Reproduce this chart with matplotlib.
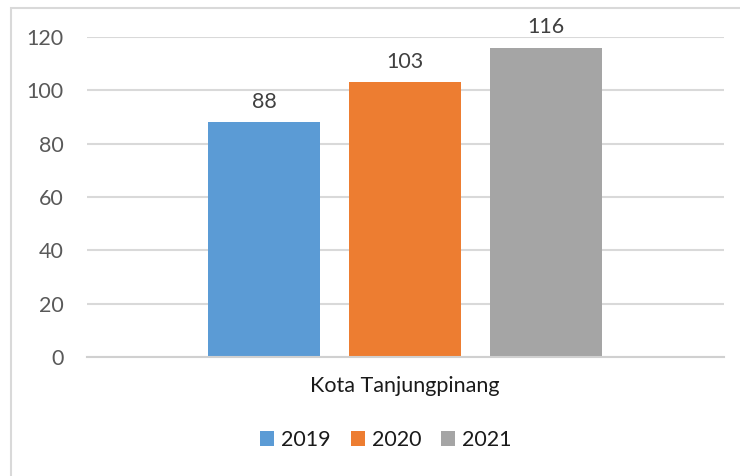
import matplotlib.pyplot as plt
from matplotlib.patches import Rectangle

# data ---------------------------------------
tahun = ['2019', '2020', '2021']
nilai = [88, 103, 116]
warna = ['#5b9bd5', '#ed7d31', '#a5a5a5']
kategori = 'Kota Tanjungpinang'
y_ticks = [0, 20, 40, 60, 80, 100, 120]

plt.rcParams['font.family'] = ['Lato', 'DejaVu Sans']

fig = plt.figure(figsize=(7.4, 4.76), dpi=100)
ax = fig.add_axes([0.1176, 0.25, 0.8608, 0.6723])

# chart frame
fig.patches.append(Rectangle((11 / 740, -0.1), 1.1, 1 - 8 / 476 + 0.1,
                             transform=fig.transFigure, fill=False,
                             edgecolor='#d9d9d9', linewidth=1.5))

pos = [-1, 0, 1]
bars = ax.bar(pos, nilai, width=0.794, color=warna, label=tahun, zorder=3)
for p, v in zip(pos, nilai):
    ax.text(p, v + 4, str(v), ha='center', va='bottom', fontsize=15.5,
            color='#404040')

ax.set_xlim(-2.255, 2.262)
ax.set_ylim(0, 120)
ax.set_yticks(y_ticks)
ax.set_xticks([])
ax.tick_params(axis='y', length=0, labelsize=15.5, labelcolor='#595959', pad=17)
ax.grid(axis='y', color='#d9d9d9', linewidth=1.5, zorder=0)
for s in ['top', 'right', 'left']:
    ax.spines[s].set_visible(False)
ax.spines['bottom'].set_color('#d0d0d0')
ax.spines['bottom'].set_linewidth(1.5)
ax.spines['bottom'].set_zorder(4)

fig.text(405 / 740, 1 - 386 / 476, kategori, ha='center', va='center',
         fontsize=15.5, color='#1a1a1a')

fig.legend(handles=bars, labels=tahun, loc='center',
           bbox_to_anchor=(386 / 740, 1 - 440 / 476), ncol=3, frameon=False,
           fontsize=15.5, handlelength=0.65, handleheight=0.65, handletextpad=0.33,
           columnspacing=0.93, labelcolor='#1a1a1a')

fig.savefig('out.png', dpi=100, facecolor='white')
